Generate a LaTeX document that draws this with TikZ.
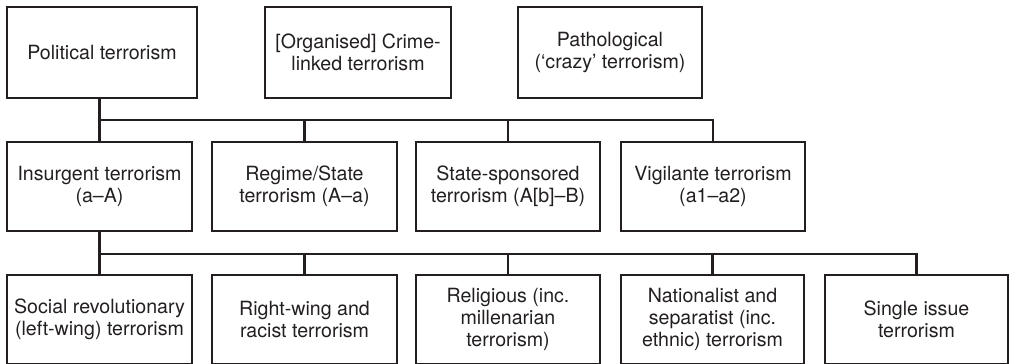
\documentclass[tikz,border=0pt]{standalone}
\usepackage{fontspec}
\setmainfont{TeX Gyre Heros}
\definecolor{ink}{RGB}{35,31,32}
\begin{document}
\begin{tikzpicture}[x=1pt,y=-1pt,
  box/.style={draw=ink, line width=1.4pt, text=ink, inner sep=0pt, outer sep=0pt,
    align=center, anchor=north west, font=\fontsize{19.6}{22}\selectfont},
  conn/.style={draw=ink, line width=2.4pt}]
\useasboundingbox (0,0) rectangle (1010,364);
% top row
\node[box, minimum width=190pt, minimum height=91pt] (pol) at (7,7) {Political terrorism};
\node[box, minimum width=186pt, minimum height=91pt] (cri) at (265,7) {[Organised] Crime-\\linked terrorism};
\node[box, minimum width=184pt, minimum height=91pt] (pat) at (518,7) {Pathological\\(‘crazy’ terrorism)};
% middle row
\node[box, minimum width=185pt, minimum height=89pt] (ins) at (7,142) {Insurgent terrorism\\(a–A)};
\node[box, minimum width=185pt, minimum height=89pt] (reg) at (212,142) {Regime/State\\terrorism (A–a)};
\node[box, minimum width=184pt, minimum height=89pt] (sta) at (416,142) {State-sponsored\\terrorism (A[b]–B)};
\node[box, minimum width=184pt, minimum height=89pt] (vig) at (621,142) {Vigilante terrorism\\(a1–a2)};
% bottom row
\node[box, minimum width=185pt, minimum height=88.5pt] (soc) at (7,275) {Social revolutionary\\(left-wing) terrorism};
\node[box, minimum width=185pt, minimum height=88.5pt] (rig) at (212,275) {Right-wing and\\racist terrorism};
\node[box, minimum width=184pt, minimum height=88.5pt] (rel) at (416,275) {Religious (inc.\\millenarian\\terrorism)};
\node[box, minimum width=183pt, minimum height=88.5pt] (nat) at (621,275) {Nationalist and\\separatist (inc.\\ethnic) terrorism};
\node[box, minimum width=183pt, minimum height=88.5pt] (sin) at (825,275) {Single issue\\terrorism};
% connectors level 1
\coordinate (j1) at (100,120);
\draw[conn] (pol.south -| ins.north) -- (ins.north);
\draw[conn, line cap=rect] (j1) -- (j1 -| vig.north);
\draw[conn] (j1 -| reg.north) -- (reg.north);
\draw[conn] (j1 -| sta.north) -- (sta.north);
\draw[conn] (j1 -| vig.north) -- (vig.north);
% connectors level 2
\coordinate (j2) at (100,254);
\draw[conn] (ins.south) -- (soc.north);
\draw[conn, line cap=rect] (j2) -- (j2 -| sin.north);
\draw[conn] (j2 -| rig.north) -- (rig.north);
\draw[conn] (j2 -| rel.north) -- (rel.north);
\draw[conn] (j2 -| nat.north) -- (nat.north);
\draw[conn] (j2 -| sin.north) -- (sin.north);
\end{tikzpicture}
\end{document}
